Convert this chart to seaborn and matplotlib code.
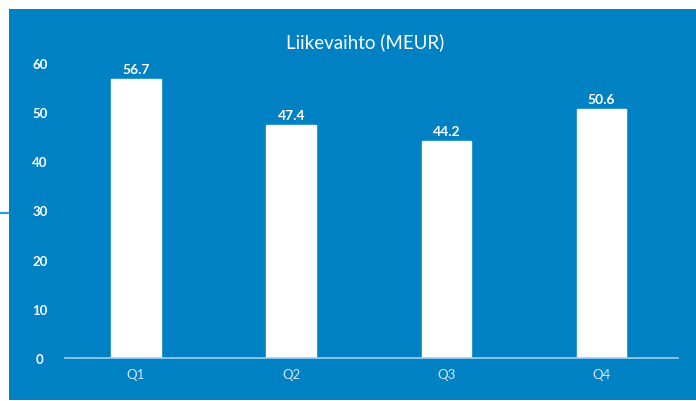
import matplotlib
matplotlib.use("Agg")
import matplotlib.pyplot as plt
from matplotlib.patches import Rectangle
from matplotlib.lines import Line2D
import seaborn as sns
import pandas as pd

quarters = ["Q1", "Q2", "Q3", "Q4"]
revenue = [56.7, 47.4, 44.2, 50.6]
y_ticks = [0, 10, 20, 30, 40, 50, 60]
title = "Liikevaihto (MEUR)"

panel_blue = "#0081C4"
axis_line = "#9fd0ef"
stub_blue = "#2b9ad8"

sns.set_theme(style="white")
plt.rcParams["font.family"] = ["Lato", "DejaVu Sans"]

W, H = 696, 402
fig = plt.figure(figsize=(W / 100, H / 100), dpi=100, facecolor="white")

# blue background panel
fig.add_artist(Rectangle((9 / W, 1 - 401 / H), (W - 9) / W, (401 - 10) / H,
                         transform=fig.transFigure, facecolor=panel_blue,
                         edgecolor="none", zorder=0))
# small connector stub on the left edge
fig.add_artist(Line2D([0, 9 / W], [1 - 214 / H, 1 - 214 / H],
                      transform=fig.transFigure, color=stub_blue, lw=1.6))

ax = fig.add_axes([65 / W, 1 - 359 / H, (678 - 65) / W, (359 - 64) / H])
ax.set_facecolor("none")

df = pd.DataFrame({"quarter": quarters, "revenue": revenue})
sns.barplot(data=df, x="quarter", y="revenue", color="white", saturation=1,
            width=0.32, ax=ax, zorder=2)

ax.set_xlim(-0.458, 3.493)
ax.set_ylim(0, 60)
ax.set_yticks(y_ticks)
ax.set_yticklabels([str(t) for t in y_ticks])
ax.set_xlabel("")
ax.set_ylabel("")

for s in ["top", "right", "left"]:
    ax.spines[s].set_visible(False)
ax.spines["bottom"].set_color(axis_line)
ax.spines["bottom"].set_linewidth(1.2)

ax.tick_params(axis="y", length=0, pad=18, labelsize=9.5, labelcolor="white")
for lbl in ax.get_yticklabels():
    lbl.set_fontweight("bold")
    lbl.set_horizontalalignment("center")
ax.tick_params(axis="x", length=0, pad=7, labelsize=9.5, labelcolor="#cfe6f5")

for i, v in enumerate(revenue):
    ax.annotate(f"{v:.1f}", (i, v), xytext=(0, 3), textcoords="offset points",
                ha="center", va="bottom", color="white", fontsize=10,
                fontweight="bold")

fig.text(365 / W, 1 - 42 / H, title, ha="center", va="center",
         color="white", fontsize=13.5)

fig.savefig("out.png", dpi=100, facecolor="white")
